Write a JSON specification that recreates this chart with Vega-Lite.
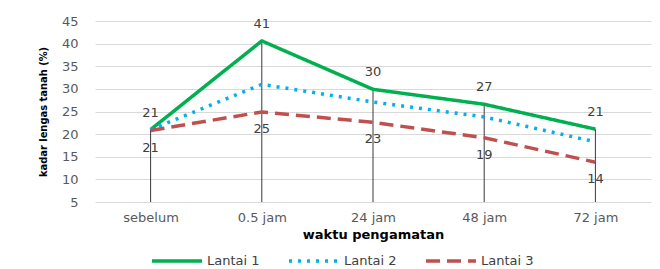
{
  "$schema": "https://vega.github.io/schema/vega-lite/v6.json",
  "width": 556,
  "height": 181,
  "autosize": {"type": "none"},
  "padding": {"left": 95, "top": 21, "right": 9, "bottom": 67},
  "background": "white",
  "config": {
    "view": {"stroke": null},
    "font": "DejaVu Sans",
    "axis": {"labelFont": "DejaVu Sans", "labelColor": "#595959", "labelFontSize": 13}
  },
  "data": {
    "values": [
      {"waktu": "sebelum", "seri": "Lantai 1", "nilai": 21.0},
      {"waktu": "0.5 jam", "seri": "Lantai 1", "nilai": 40.6},
      {"waktu": "24 jam", "seri": "Lantai 1", "nilai": 29.9},
      {"waktu": "48 jam", "seri": "Lantai 1", "nilai": 26.6},
      {"waktu": "72 jam", "seri": "Lantai 1", "nilai": 21.1},
      {"waktu": "sebelum", "seri": "Lantai 2", "nilai": 21.0},
      {"waktu": "0.5 jam", "seri": "Lantai 2", "nilai": 31.0},
      {"waktu": "24 jam", "seri": "Lantai 2", "nilai": 27.1},
      {"waktu": "48 jam", "seri": "Lantai 2", "nilai": 23.8},
      {"waktu": "72 jam", "seri": "Lantai 2", "nilai": 18.3},
      {"waktu": "sebelum", "seri": "Lantai 3", "nilai": 20.8},
      {"waktu": "0.5 jam", "seri": "Lantai 3", "nilai": 24.9},
      {"waktu": "24 jam", "seri": "Lantai 3", "nilai": 22.6},
      {"waktu": "48 jam", "seri": "Lantai 3", "nilai": 19.2},
      {"waktu": "72 jam", "seri": "Lantai 3", "nilai": 13.8}
    ]
  },
  "encoding": {
    "x": {
      "field": "waktu",
      "type": "nominal",
      "sort": ["sebelum", "0.5 jam", "24 jam", "48 jam", "72 jam"],
      "scale": {"type": "point", "padding": 0.5},
      "axis": {
        "title": "waktu pengamatan",
        "titleFont": "DejaVu Sans",
        "titleFontSize": 13,
        "titleFontWeight": "bold",
        "titleColor": "#000000",
        "titlePadding": 4,
        "labelAngle": 0,
        "labelPadding": 9,
        "ticks": false,
        "domain": false,
        "grid": false
      }
    },
    "y": {
      "field": "nilai",
      "type": "quantitative",
      "scale": {"domain": [5, 45], "nice": false, "zero": false},
      "axis": {
        "title": "kadar lengas tanah (%)",
        "titleFont": "DejaVu Sans Condensed",
        "titleFontSize": 11,
        "titleFontWeight": "bold",
        "titleColor": "#000000",
        "titlePadding": 13,
        "values": [5, 10, 15, 20, 25, 30, 35, 40, 45],
        "ticks": false,
        "domain": false,
        "labelPadding": 17,
        "grid": true,
        "gridColor": "#d9d9d9",
        "gridWidth": 1.2
      }
    }
  },
  "layer": [
    {
      "transform": [{"filter": "datum.seri === 'Lantai 1'"}],
      "mark": {"type": "rule", "color": "#3a3a3a", "strokeWidth": 1},
      "encoding": {"y2": {"datum": 5}}
    },
    {
      "mark": {"type": "line", "strokeWidth": 3.5},
      "encoding": {
        "color": {
          "field": "seri",
          "type": "nominal",
          "scale": {"domain": ["Lantai 1", "Lantai 2", "Lantai 3"], "range": ["#00B050", "#00B0F0", "#C0504D"]},
          "legend": {
            "title": null,
            "orient": "none",
            "direction": "horizontal",
            "legendX": 55,
            "legendY": 213,
            "symbolType": "stroke",
            "symbolSize": 2500,
            "symbolStrokeWidth": 3.5,
            "labelFont": "DejaVu Sans",
            "labelFontSize": 13,
            "labelColor": "#404040",
            "labelOffset": 3,
            "columnPadding": 22
          }
        },
        "strokeDash": {
          "field": "seri",
          "type": "nominal",
          "scale": {"domain": ["Lantai 1", "Lantai 2", "Lantai 3"], "range": [[1, 0], [3, 6], [14, 7]]},
          "legend": null
        }
      }
    },
    {
      "transform": [{"filter": "datum.seri === 'Lantai 1'"}],
      "mark": {"type": "text", "dy": -17, "fontSize": 13, "color": "#404040", "font": "DejaVu Sans"},
      "encoding": {"text": {"field": "nilai", "type": "quantitative", "format": ".0f"}}
    },
    {
      "transform": [{"filter": "datum.seri === 'Lantai 3'"}],
      "mark": {"type": "text", "dy": 17, "fontSize": 13, "color": "#404040", "font": "DejaVu Sans"},
      "encoding": {"text": {"field": "nilai", "type": "quantitative", "format": ".0f"}}
    }
  ]
}
